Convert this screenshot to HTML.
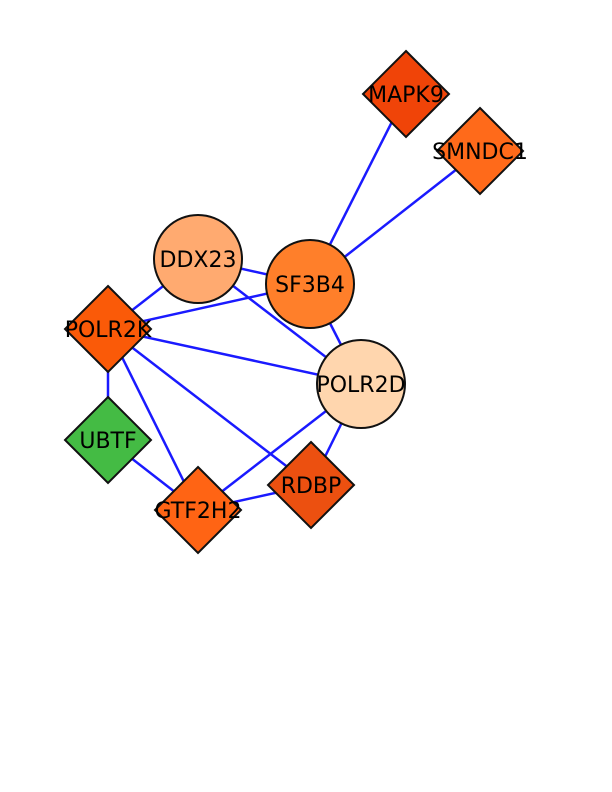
<!DOCTYPE html>
<html><head><meta charset="utf-8"><style>
html,body{margin:0;padding:0;background:#fff;}
svg{display:block;}
text{font-family:"DejaVu Sans","Liberation Sans",sans-serif;font-size:22px;fill:#000;}
</style></head>
<body>
<svg id="chart" width="612" height="792" viewBox="0 0 612 792">
<g id="edges"></g>
<g id="nodes"></g>
</svg>
<script>
const nodeNames = ["MAPK9","SMNDC1","DDX23","SF3B4","POLR2K","POLR2D","UBTF","GTF2H2","RDBP"];
const nodeX = [406,480,198,310,108,361,108,198,311];
const nodeY = [94,151,259,284,329,384,440,510,485];
const nodeShape = ["diamond","diamond","circle","circle","diamond","circle","diamond","diamond","diamond"];
const nodeColor = ["#f04408","#ff6a1a","#ffaa70","#ff7f2a","#fa5a08","#ffd6ae","#44bb44","#ff6414","#ec5010"];
const edgeFrom = ["MAPK9","SMNDC1","DDX23","DDX23","DDX23","SF3B4","SF3B4","POLR2K","POLR2K","POLR2K","POLR2K","UBTF","GTF2H2","GTF2H2","RDBP"];
const edgeTo   = ["SF3B4","SF3B4","SF3B4","POLR2K","POLR2D","POLR2K","POLR2D","POLR2D","UBTF","GTF2H2","RDBP","GTF2H2","POLR2D","RDBP","POLR2D"];
const NS="http://www.w3.org/2000/svg";
const eg=document.getElementById('edges'), ng=document.getElementById('nodes');
const idx=n=>nodeNames.indexOf(n);
for(let i=0;i<edgeFrom.length;i++){
  const a=idx(edgeFrom[i]), b=idx(edgeTo[i]);
  const l=document.createElementNS(NS,'line');
  l.setAttribute('x1',nodeX[a]);l.setAttribute('y1',nodeY[a]);
  l.setAttribute('x2',nodeX[b]);l.setAttribute('y2',nodeY[b]);
  l.setAttribute('stroke','#1a1aff');l.setAttribute('stroke-width','2.5');
  
  
  eg.appendChild(l);
}
for(let i=0;i<nodeNames.length;i++){
  const x=nodeX[i], y=nodeY[i];
  let s;
  if(nodeShape[i]==='circle'){
    s=document.createElementNS(NS,'circle');
    s.setAttribute('cx',x);s.setAttribute('cy',y);s.setAttribute('r',44);
  } else {
    s=document.createElementNS(NS,'polygon');
    const h=43;
    s.setAttribute('points',`${x},${y-h} ${x+h},${y} ${x},${y+h} ${x-h},${y}`);
  }
  s.setAttribute('fill',nodeColor[i]);s.setAttribute('stroke','#111');s.setAttribute('stroke-width','2');
  
  
  ng.appendChild(s);
  const t=document.createElementNS(NS,'text');
  t.setAttribute('x',x);t.setAttribute('y',y+8);t.setAttribute('text-anchor','middle');
  t.textContent=nodeNames[i];
  
  
  ng.appendChild(t);
}
</script>
</body></html>
